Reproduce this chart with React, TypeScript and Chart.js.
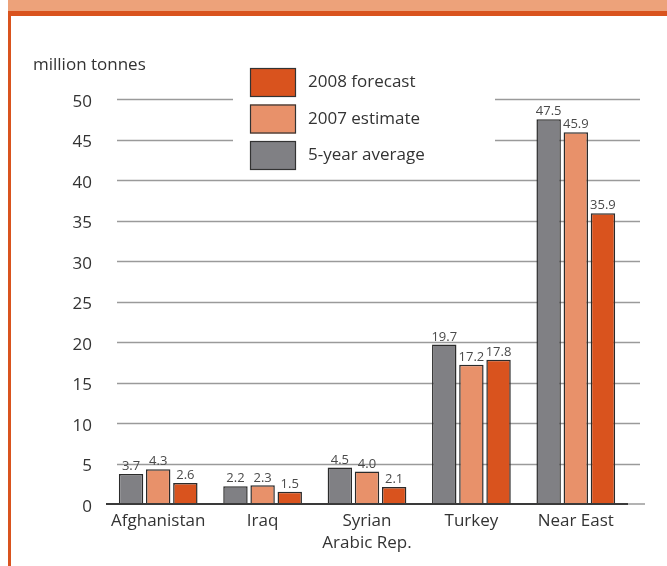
import React, { useEffect, useRef } from "react";
import { Chart, registerables } from "chart.js";

Chart.register(...registerables);

const categories: (string | string[])[] = [
  "Afghanistan",
  "Iraq",
  ["Syrian", "Arabic Rep."],
  "Turkey",
  "Near East",
];
const fiveYearAverage = [3.7, 2.2, 4.5, 19.7, 47.5];
const estimate2007 = [4.3, 2.3, 4.0, 17.2, 45.9];
const forecast2008 = [2.6, 1.5, 2.1, 17.8, 35.9];
const yTicks = [0, 5, 10, 15, 20, 25, 30, 35, 40, 45, 50];
const unitLabel = "million tonnes";

const GRAY = "#808084";
const LIGHT = "#E8916A";
const DARK = "#D9531E";
const FONT = "'Open Sans', 'DejaVu Sans', sans-serif";
const TEXT = "#333333";

const legendItems = [
  { label: "2008 forecast", color: DARK },
  { label: "2007 estimate", color: LIGHT },
  { label: "5-year average", color: GRAY },
];

const decorPlugin = {
  id: "decor",
  beforeDraw(chart: any) {
    const { ctx, width, height } = chart;
    ctx.save();
    ctx.fillStyle = "#ffffff";
    ctx.fillRect(0, 0, width, height);
    // header band and frame
    ctx.fillStyle = "#EDA27A";
    ctx.fillRect(8, 0, width - 8, 11);
    ctx.fillStyle = DARK;
    ctx.fillRect(8, 11, width - 8, 5);
    ctx.fillRect(8, 11, 3, height - 11);
    // unit label
    ctx.fillStyle = TEXT;
    ctx.font = `17px ${FONT}`;
    ctx.textBaseline = "middle";
    ctx.textAlign = "left";
    ctx.fillText(unitLabel, 33, 65);
    ctx.restore();
  },
  beforeDatasetsDraw(chart: any) {
    const { ctx } = chart;
    const y = chart.scales.y;
    ctx.save();
    ctx.strokeStyle = "#9a9a9a";
    ctx.lineWidth = 1.5;
    yTicks.forEach((v) => {
      const py = y.getPixelForValue(v);
      // tick label, sitting slightly below its gridline
      ctx.fillStyle = TEXT;
      ctx.font = `17px ${FONT}`;
      ctx.textAlign = "right";
      ctx.textBaseline = "middle";
      ctx.fillText(String(v), 92, py + 3);
      if (v === 0) return;
      const ly = Math.round(py) + 0.5;
      ctx.beginPath();
      ctx.moveTo(chart.chartArea.left + 11, ly);
      ctx.lineTo(chart.chartArea.right + 12, ly);
      ctx.stroke();
    });
    ctx.restore();
  },
  afterDatasetsDraw(chart: any) {
    const { ctx, chartArea } = chart;
    const y = chart.scales.y;
    const base = y.getPixelForValue(0);
    ctx.save();
    // baseline
    ctx.strokeStyle = "#9a9a9a";
    ctx.lineWidth = 1.5;
    ctx.beginPath();
    ctx.moveTo(chartArea.right, base);
    ctx.lineTo(chartArea.right + 17, base);
    ctx.stroke();
    ctx.strokeStyle = "#3a3a3a";
    ctx.lineWidth = 2;
    ctx.beginPath();
    ctx.moveTo(chartArea.left, base);
    ctx.lineTo(chartArea.right, base);
    ctx.stroke();
    // value labels
    ctx.fillStyle = "#4a4a4a";
    ctx.font = `13px ${FONT}`;
    ctx.textAlign = "center";
    ctx.textBaseline = "bottom";
    chart.data.datasets.forEach((ds: any, i: number) => {
      const meta = chart.getDatasetMeta(i);
      meta.data.forEach((bar: any, j: number) => {
        ctx.fillText(ds.data[j].toFixed(1), bar.x, bar.y - 1);
      });
    });
    ctx.restore();
  },
  afterDraw(chart: any) {
    const { ctx } = chart;
    ctx.save();
    // legend panel
    ctx.fillStyle = "#ffffff";
    ctx.fillRect(233, 60, 262, 115);
    legendItems.forEach((item, i) => {
      const top = 68 + i * 36.5;
      ctx.fillStyle = item.color;
      ctx.fillRect(250, top, 46, 29);
      ctx.strokeStyle = "#333333";
      ctx.lineWidth = 1.2;
      ctx.strokeRect(250.5, top + 0.5, 45, 28);
      ctx.fillStyle = TEXT;
      ctx.font = `17px ${FONT}`;
      ctx.textAlign = "left";
      ctx.textBaseline = "middle";
      ctx.fillText(item.label, 308, top + 14.5);
    });
    ctx.restore();
  },
};

export default function App() {
  const ref = useRef<HTMLCanvasElement>(null);

  useEffect(() => {
    document.body.style.margin = "0";
    const barStyle = {
      borderColor: "#2b2b2b",
      borderWidth: 1.5,
      categoryPercentage: 0.78,
      barPercentage: 0.9,
    };
    const chart = new Chart(ref.current!, {
      type: "bar",
      data: {
        labels: categories,
        datasets: [
          { label: "5-year average", data: fiveYearAverage, backgroundColor: GRAY, ...barStyle },
          { label: "2007 estimate", data: estimate2007, backgroundColor: LIGHT, ...barStyle },
          { label: "2008 forecast", data: forecast2008, backgroundColor: DARK, ...barStyle },
        ],
      },
      options: {
        responsive: false,
        animation: false,
        devicePixelRatio: 1,
        layout: { padding: { left: 46, right: 39, top: 99, bottom: 12 } },
        plugins: { legend: { display: false }, tooltip: { enabled: false } },
        scales: {
          x: {
            grid: { display: false, drawTicks: false },
            border: { display: false },
            ticks: {
              color: TEXT,
              font: { family: FONT, size: 17, lineHeight: 1.25 },
              padding: 7,
              maxRotation: 0,
            },
            afterFit: (s: any) => {
              s.height = 50;
            },
          },
          y: {
            min: 0,
            max: 50,
            grid: { display: false, drawTicks: false },
            border: { display: false },
            ticks: { stepSize: 5, display: false },
            afterFit: (s: any) => {
              s.width = 60;
            },
          },
        },
      },
      plugins: [decorPlugin],
    });
    return () => chart.destroy();
  }, []);

  return <canvas ref={ref} width={667} height={566} style={{ display: "block" }} />;
}
